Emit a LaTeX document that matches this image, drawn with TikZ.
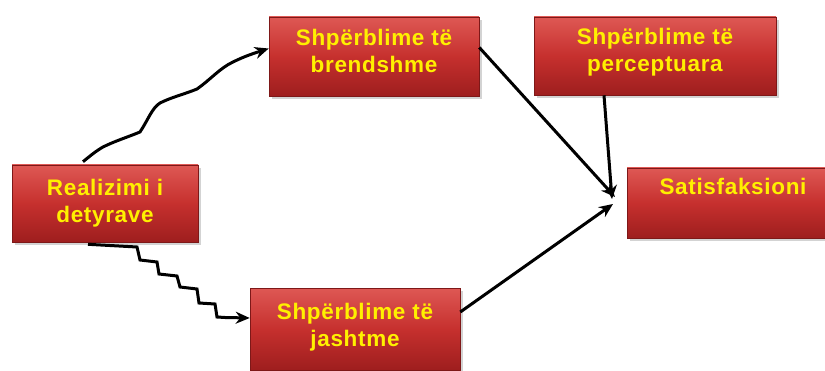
\documentclass[tikz,border=0pt]{standalone}
\usepackage{fontspec}
\setmainfont{Liberation Sans}
\usetikzlibrary{arrows.meta,shadows,calc}
\definecolor{boxtop}{RGB}{222,88,84}
\definecolor{boxmid}{RGB}{198,48,46}
\definecolor{boxbot}{RGB}{158,30,30}
\definecolor{txtyellow}{RGB}{255,240,0}
\newcommand{\lowdepth}[1]{\rule[-#1]{0pt}{0pt}}
\tikzset{
  redbox/.style={rectangle, draw=boxbot!80!black, line width=0.6pt,
    top color=boxtop, bottom color=boxbot, middle color=boxmid,
    drop shadow={opacity=0.35, shadow xshift=3pt, shadow yshift=-3pt},
    text=txtyellow, font=\bfseries\fontsize{22.5}{27}\selectfont\addfontfeatures{LetterSpace=3},
    align=center, inner sep=0pt},
  conn/.style={line width=3pt, -{Stealth[length=14pt,width=12pt]}},
  wig/.style={line width=3pt, line join=round}
}
\begin{document}
\begin{tikzpicture}[x=1pt,y=1pt]
\useasboundingbox (0,0) rectangle (825,370);
\node[redbox, minimum width=186pt, minimum height=77pt] (real) at (105,166.5) {Realizimi i\\detyrave\lowdepth{6pt}};
\node[redbox, minimum width=210pt, minimum height=79pt] (brend) at (374,313.5) {Shpërblime të\\brendshme\lowdepth{12pt}};
\node[redbox, minimum width=242pt, minimum height=78pt] (perc) at (655,314) {Shpërblime të\\perceptuara\lowdepth{12pt}};
\node[redbox, minimum width=212pt, minimum height=70pt] (sat) at (733,167) {Satisfaksioni\\\mbox{}\lowdepth{6pt}};
\node[redbox, minimum width=210pt, minimum height=82pt] (jasht) at (355,41) {Shpërblime të\\jashtme\lowdepth{8pt}};

\coordinate (hubA) at (615,173);
\coordinate (hubB) at (612,171);
\coordinate (hubC) at (613,166);

\draw[wig] ([xshift=-22pt,yshift=3pt]real.north)
  .. controls (90,214) and (96,219) .. (103,223)
  .. controls (115,229) and (128,233) .. (140,238)
  .. controls (148,250) and (152,262) .. (160,267)
  .. controls (172,273) and (185,276) .. (197,281)
  .. controls (210,290) and (220,302) .. (233,308)
  .. controls (245,314) and (255,317) .. (258,318);
\draw[conn] (258,318) -- ([yshift=8pt]brend.west);

\draw[wig, line join=miter] ([xshift=-17pt,yshift=-2pt]real.south)
  -- (137,123) -- (140,110) -- (157,108) -- (159,96) -- (177,94)
  -- (180,83) -- (197,81) -- (199,67) -- (215,66) -- (217,53) -- (225,52.5);
\draw[conn] (225,52.5) -- ([yshift=11pt]jasht.west);

\draw[conn] ([yshift=9pt]brend.east) -- (hubA);
\draw[conn] ([xshift=-51pt]perc.south) -- (hubB);
\draw[conn] ([yshift=17pt]jasht.east) -- (hubC);
\end{tikzpicture}
\end{document}
